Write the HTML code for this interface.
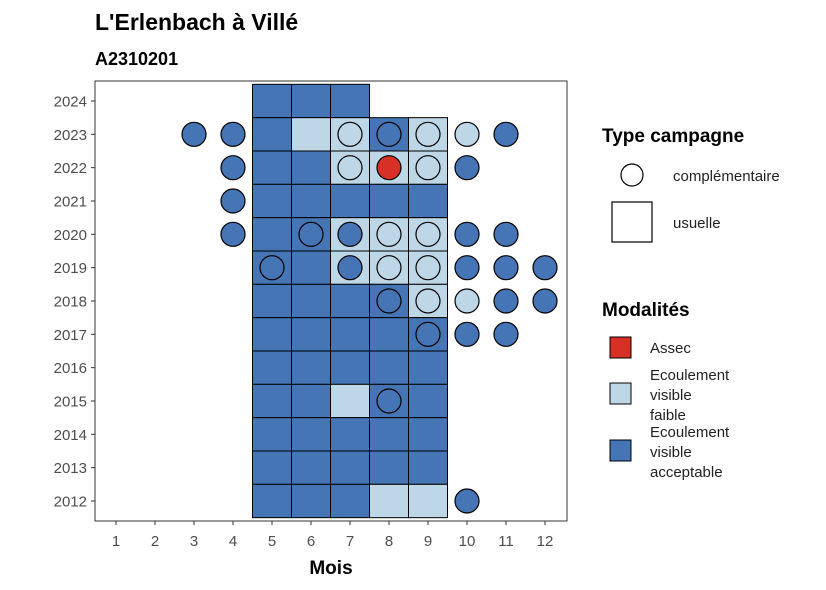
<!DOCTYPE html>
<html><head><meta charset="utf-8"><style>
body{margin:0;background:#fff;}
svg{display:block;font-family:"Liberation Sans",sans-serif;}
</style></head><body>
<svg id="chart" width="826" height="590" viewBox="0 0 826 590">
<text x="95" y="30" font-size="23" font-weight="bold" fill="#000">L'Erlenbach à Villé</text>
<text x="95" y="65" font-size="18" font-weight="bold" fill="#000">A2310201</text>
<g id="plot"></g>
<rect x="95" y="81" width="472" height="440" fill="none" stroke="#333" stroke-width="1"/>
<g id="axes"></g>
<text x="331" y="574" font-size="19" font-weight="bold" text-anchor="middle">Mois</text>
<g>
<text x="602" y="142" font-size="19" font-weight="bold">Type campagne</text>
<circle cx="632" cy="175" r="11" fill="#fff" stroke="#000" stroke-width="1.2"/>
<text x="673" y="181" font-size="15" fill="#222">complémentaire</text>
<rect x="612" y="202" width="40" height="40" fill="#fff" stroke="#000" stroke-width="1.2"/>
<text x="673" y="228" font-size="15" fill="#222">usuelle</text>
</g>
<g>
<text x="602" y="316" font-size="19" font-weight="bold">Modalités</text>
<rect x="610" y="337" width="21" height="21" fill="#d73027" stroke="#000" stroke-width="1"/>
<text x="650" y="353" font-size="15" fill="#222">Assec</text>
<rect x="610" y="383" width="21" height="21" fill="#bdd7e7" stroke="#000" stroke-width="1"/>
<text font-size="15" fill="#222"><tspan x="650" y="380">Ecoulement</tspan><tspan x="650" y="400">visible</tspan><tspan x="650" y="420">faible</tspan></text>
<rect x="610" y="440" width="21" height="21" fill="#4575b4" stroke="#000" stroke-width="1"/>
<text font-size="15" fill="#222"><tspan x="650" y="437">Ecoulement</tspan><tspan x="650" y="457">visible</tspan><tspan x="650" y="477">acceptable</tspan></text>
</g>
</svg>
<script>
const years=[2012,2013,2014,2015,2016,2017,2018,2019,2020,2021,2022,2023,2024];
const months=[1,2,3,4,5,6,7,8,9,10,11,12];
// usuelle tiles: D = acceptable, L = faible
const tileYear=[2024,2024,2024,2023,2023,2023,2023,2023,2022,2022,2022,2022,2022,2021,2021,2021,2021,2021,2020,2020,2020,2020,2020,2019,2019,2019,2019,2019,2018,2018,2018,2018,2018,2017,2017,2017,2017,2017,2016,2016,2016,2016,2016,2015,2015,2015,2015,2015,2014,2014,2014,2014,2014,2013,2013,2013,2013,2013,2012,2012,2012,2012,2012];
const tileMonth=[5,6,7,5,6,7,8,9,5,6,7,8,9,5,6,7,8,9,5,6,7,8,9,5,6,7,8,9,5,6,7,8,9,5,6,7,8,9,5,6,7,8,9,5,6,7,8,9,5,6,7,8,9,5,6,7,8,9,5,6,7,8,9];
const tileMod=["D","D","D","D","L","L","D","L","D","D","L","L","L","D","D","D","D","D","D","D","L","L","L","D","D","L","L","L","D","D","D","D","L","D","D","D","D","D","D","D","D","D","D","D","D","L","D","D","D","D","D","D","D","D","D","D","D","D","D","D","D","L","L"];
// complementaire circles: D, L, R = assec
const circYear=[2023,2023,2023,2023,2023,2023,2023,2022,2022,2022,2022,2022,2021,2020,2020,2020,2020,2020,2020,2020,2019,2019,2019,2019,2019,2019,2019,2018,2018,2018,2018,2018,2017,2017,2017,2015,2012];
const circMonth=[3,4,7,8,9,10,11,4,7,8,9,10,4,4,6,7,8,9,10,11,5,7,8,9,10,11,12,8,9,10,11,12,9,10,11,8,10];
const circMod=["D","D","L","D","L","L","D","D","L","R","L","D","D","D","D","D","L","L","D","D","D","D","L","L","D","D","D","D","L","L","D","D","D","D","D","D","D"];
const colors={D:"#4575b4",L:"#bdd7e7",R:"#d73027"};
const NS="http://www.w3.org/2000/svg";
function xS(m){return 116+(m-1)*39;}
function yS(y){return 501-(y-2012)*(400/12);}
const plot=document.getElementById('plot'), axes=document.getElementById('axes');
const clip=document.createElementNS(NS,'clipPath');clip.setAttribute('id','pc');
const cr=document.createElementNS(NS,'rect');cr.setAttribute('x',95);cr.setAttribute('y',81);cr.setAttribute('width',472);cr.setAttribute('height',440);
clip.appendChild(cr);plot.appendChild(clip);plot.setAttribute('clip-path','url(#pc)');
const tw=39, th=400/12;
for(let i=0;i<tileYear.length;i++){
  const r=document.createElementNS(NS,'rect');
  r.setAttribute('x',xS(tileMonth[i])-tw/2);r.setAttribute('y',yS(tileYear[i])-th/2);
  r.setAttribute('width',tw);r.setAttribute('height',th);
  r.setAttribute('fill',colors[tileMod[i]]);r.setAttribute('stroke','#000');r.setAttribute('stroke-width','1');
  
  
  plot.appendChild(r);
}
for(let i=0;i<circYear.length;i++){
  const c=document.createElementNS(NS,'circle');
  c.setAttribute('cx',xS(circMonth[i]));c.setAttribute('cy',yS(circYear[i]));c.setAttribute('r',12);
  c.setAttribute('fill',colors[circMod[i]]);c.setAttribute('stroke','#000');c.setAttribute('stroke-width','1.2');
  
  
  plot.appendChild(c);
}
months.forEach(m=>{
  const l=document.createElementNS(NS,'line');
  l.setAttribute('x1',xS(m));l.setAttribute('x2',xS(m));l.setAttribute('y1',521);l.setAttribute('y2',525);l.setAttribute('stroke','#333');
  
  
  axes.appendChild(l);
  const t=document.createElementNS(NS,'text');
  t.setAttribute('x',xS(m));t.setAttribute('y',546);t.setAttribute('font-size','15');t.setAttribute('text-anchor','middle');t.setAttribute('fill','#4d4d4d');
  t.textContent=m;
  
  
  axes.appendChild(t);
});
years.forEach(y=>{
  const l=document.createElementNS(NS,'line');
  l.setAttribute('x1',91);l.setAttribute('x2',95);l.setAttribute('y1',yS(y));l.setAttribute('y2',yS(y));l.setAttribute('stroke','#333');
  
  
  axes.appendChild(l);
  const t=document.createElementNS(NS,'text');
  t.setAttribute('x',87);t.setAttribute('y',yS(y)+5.5);t.setAttribute('font-size','15');t.setAttribute('text-anchor','end');t.setAttribute('fill','#4d4d4d');
  t.textContent=y;
  
  
  axes.appendChild(t);
});
</script>
</body></html>
